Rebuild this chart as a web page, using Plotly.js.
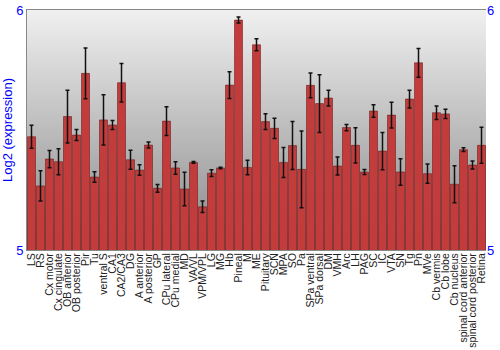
<!DOCTYPE html>
<html><head><meta charset="utf-8">
<script src="https://cdn.plot.ly/plotly-3.0.1.min.js"></script>
<style>html,body{margin:0;padding:0;background:#fff;}#chart{width:500px;height:350px;}</style>
</head><body><div id="chart"></div>
<script>
const regions = ["LS","RS","Cx motor","Cx cingulate","OB anterior","OB posterior","Pir","Tu","ventral S","CA1","CA2/CA3","DG","A anterior","A posterior","GP","CPu lateral","CPu medial","MD","VA/VL","VPM/VPL","LG","MG","Hb","Pineal","M","ME","Pituitary","SCN","MPA","SO","Pa","SPa ventral","SPa dorsal","DM","VMH","Arc","LH","PAG","SC","IC","VTA","SN","Tg","Pn","MVe","Cb vermis","Cb lobe","Cb nucleus","spinal cord anterior","spinal cord posterior","Retina"];
const expression = [5.472,5.267,5.379,5.368,5.556,5.479,5.736,5.304,5.542,5.521,5.697,5.376,5.333,5.437,5.257,5.537,5.342,5.254,5.365,5.18,5.32,5.342,5.687,5.958,5.344,5.855,5.535,5.507,5.365,5.435,5.336,5.686,5.61,5.633,5.35,5.51,5.436,5.325,5.579,5.412,5.562,5.325,5.629,5.78,5.318,5.572,5.567,5.274,5.418,5.354,5.436];
const stderr = [0.048,0.063,0.036,0.054,0.11,0.023,0.106,0.022,0.105,0.019,0.08,0.04,0.022,0.0125,0.016,0.06,0.026,0.07,0.004,0.024,0.014,0.003,0.056,0.0125,0.03,0.025,0.033,0.042,0.0625,0.1,0.16,0.052,0.12,0.033,0.038,0.013,0.073,0.01,0.026,0.078,0.054,0.055,0.037,0.06,0.04,0.028,0.019,0.077,0.008,0.017,0.075];
const yTicks = [5,6];

const grad = 'data:image/svg+xml;utf8,' + encodeURIComponent(
 '<svg xmlns="http://www.w3.org/2000/svg" width="100" height="100" preserveAspectRatio="none"><defs><linearGradient id="g" x1="0" y1="0" x2="0" y2="1"><stop offset="0" stop-color="#f0f0f0"/><stop offset="1" stop-color="#888888"/></linearGradient></defs><rect width="100" height="100" fill="url(#g)"/></svg>');

const bars = {
  type:'bar', x: regions, y: expression, base: 0,
  marker:{color:'#c23c3c', line:{color:'rgba(110,20,20,0.55)', width:1}},
  error_y:{type:'data', array: stderr, visible:true, color:'#111', thickness:1.5, width:2},
  hoverinfo:'x+y'
};
const ghost = {type:'scatter', x:[regions[0]], y:[expression[0]], yaxis:'y2', mode:'markers', marker:{opacity:0, size:1}, hoverinfo:'skip', showlegend:false};

const axFont = {family:'Arial, Liberation Sans, sans-serif', size:13, color:'#0000ff'};
const layout = {
  width:500, height:350,
  margin:{l:27, r:14, t:10, b:100},
  paper_bgcolor:'#fff', plot_bgcolor:'rgba(0,0,0,0)',
  showlegend:false, bargap:0.11,
  images:[{source:grad, xref:'paper', yref:'paper', x:0, y:1, sizex:1, sizey:1, sizing:'stretch', layer:'below'}],
  xaxis:{type:'category', range:[-0.5, regions.length-0.5], autorange:false, tickmode:'linear', dtick:1, tick0:0, tickangle:-90,
    tickfont:{family:'Liberation Sans, Arial, sans-serif', size:10.5, color:'#222'}, ticklabelstandoff:-2,
    showline:true, linecolor:'#888', linewidth:1, mirror:true, ticks:'', showgrid:false, automargin:false},
  yaxis:{range:[5,6], tickvals:yTicks, ticktext:yTicks.map(String), tickfont:axFont, showgrid:false, zeroline:false,
    showline:true, linecolor:'#888', linewidth:1, ticks:'', ticklen:0,
    title:{text:'Log2 (expression)', font:{family:'Arial, Liberation Sans, sans-serif', size:13, color:'#0000ff'}, standoff:2}, automargin:false},
  yaxis2:{range:[5,6], overlaying:'y', side:'right', tickvals:yTicks, ticktext:yTicks.map(String), tickfont:axFont,
    showgrid:false, zeroline:false, showline:false, ticks:'', automargin:false}
};
Plotly.newPlot('chart',[bars, ghost],layout,{displayModeBar:false, staticPlot:true});
</script></body></html>
